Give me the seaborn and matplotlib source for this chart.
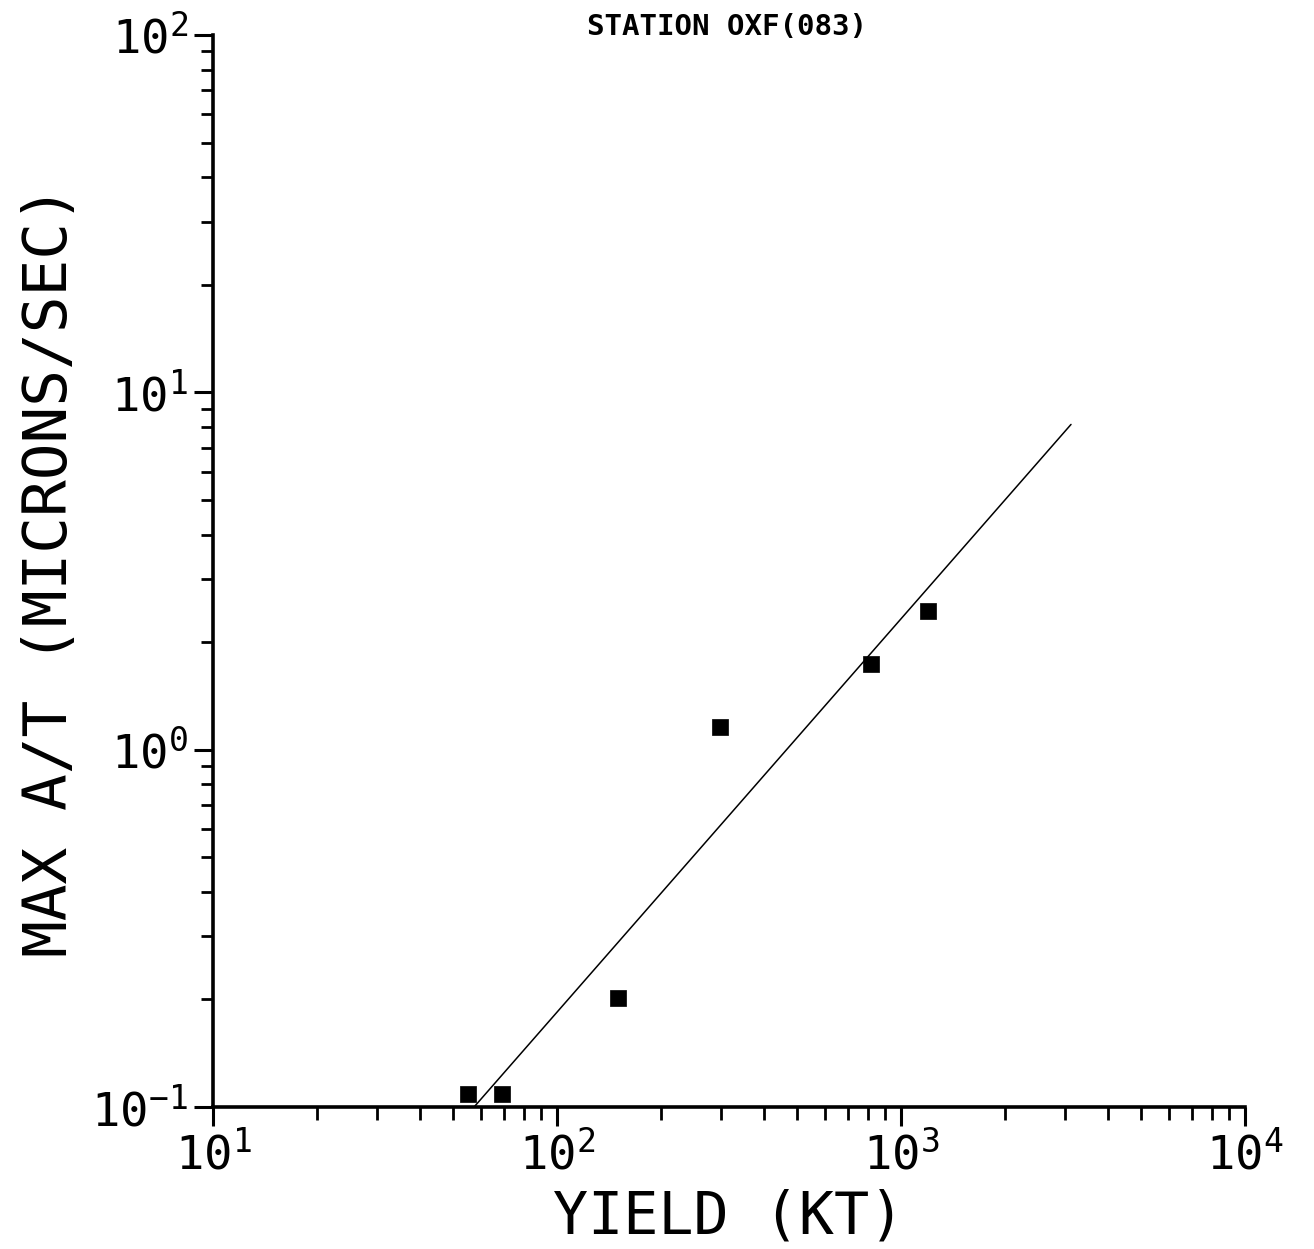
import matplotlib
matplotlib.use("Agg")
import matplotlib.pyplot as plt
import matplotlib.ticker as mticker
import seaborn as sns
import pandas as pd
import numpy as np

# Data
yield_kt = [55.1, 69.2, 150.0, 298.0, 818.0, 1197.0]
max_at = [0.109, 0.109, 0.202, 1.16, 1.74, 2.44]
fit_x = [57.4, 3120.0]
fit_y = [0.1, 8.13]

title = "STATION OXF(083)"
xlabel = "YIELD (KT)"
ylabel = "MAX A/T (MICRONS/SEC)"

sns.set_style("ticks")
plt.rcParams['font.family'] = ['DejaVu Sans Mono', 'DejaVu Sans']
plt.rcParams['mathtext.fontset'] = 'custom'
plt.rcParams['mathtext.rm'] = 'DejaVu Sans Mono'
for k in ['text.color', 'axes.labelcolor', 'xtick.color', 'ytick.color',
          'xtick.labelcolor', 'ytick.labelcolor']:
    plt.rcParams[k] = 'black'

fig = plt.figure(figsize=(13.14, 12.49), dpi=100)
ax = fig.add_axes([0.1621, 0.1137, 0.9475 - 0.1621, 0.972 - 0.1137])

pts = pd.DataFrame({"x": yield_kt, "y": max_at})
fit = pd.DataFrame({"x": fit_x, "y": fit_y})

sns.lineplot(data=fit, x="x", y="y", ax=ax, color="black", linewidth=1.1)
sns.scatterplot(data=pts, x="x", y="y", ax=ax, marker="s", s=130,
                color="black", edgecolor="black", linewidth=0.5, zorder=5)

ax.set_xscale("log")
ax.set_yscale("log")
ax.set_xlim(10, 10000)
ax.set_ylim(0.1, 100)

for side in ["top", "right"]:
    ax.spines[side].set_visible(False)
for side in ["left", "bottom"]:
    ax.spines[side].set_linewidth(2.6)
    ax.spines[side].set_color("black")

def fmt(v, pos):
    e = int(round(np.log10(v)))
    return r"$\mathrm{10^{%d}}$" % e

ax.xaxis.set_major_locator(mticker.LogLocator(base=10, numticks=10))
ax.yaxis.set_major_locator(mticker.LogLocator(base=10, numticks=10))
ax.xaxis.set_minor_locator(mticker.LogLocator(base=10, subs=np.arange(2, 10), numticks=20))
ax.yaxis.set_minor_locator(mticker.LogLocator(base=10, subs=np.arange(2, 10), numticks=20))
ax.xaxis.set_major_formatter(mticker.FuncFormatter(fmt))
ax.yaxis.set_major_formatter(mticker.FuncFormatter(fmt))
ax.xaxis.set_minor_formatter(mticker.NullFormatter())
ax.yaxis.set_minor_formatter(mticker.NullFormatter())

ax.tick_params(axis="both", which="major", direction="out", length=14, width=2.2,
               labelsize=34, color="black", labelcolor="black", pad=4)
ax.tick_params(axis="both", which="minor", direction="out", length=9, width=2.0,
               color="black")

ax.set_xlabel(xlabel, fontsize=42, labelpad=6, color="black")
ax.set_ylabel(ylabel, fontsize=44, labelpad=8, color="black")
fig.text(0.553, 0.978, title, fontsize=21, fontweight="bold", ha="center",
         va="center", color="black")

fig.savefig("out.png", dpi=100, facecolor="white")
